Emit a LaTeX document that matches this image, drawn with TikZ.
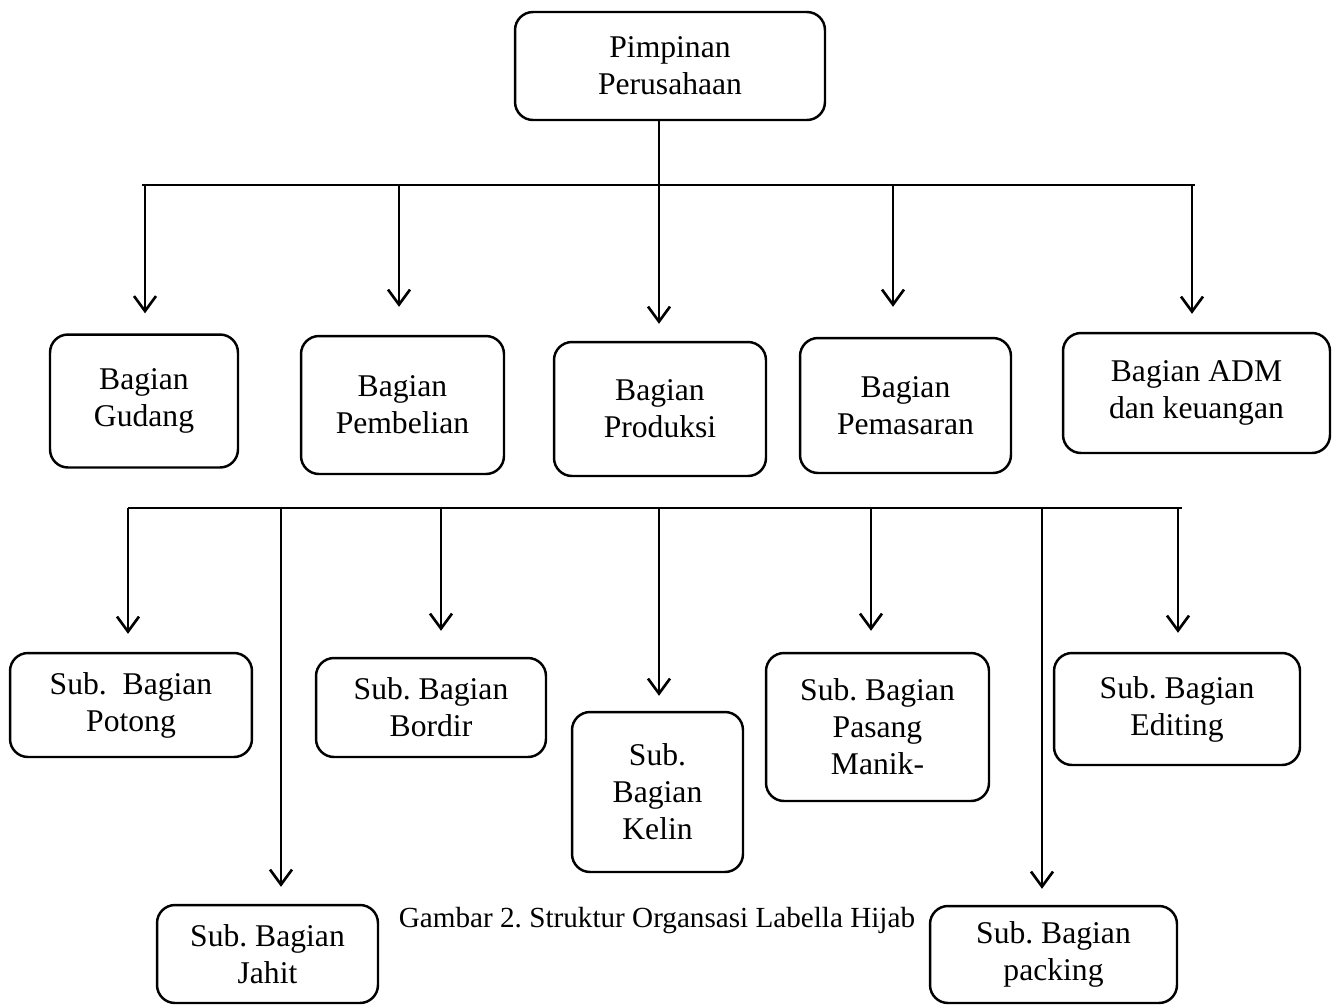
\documentclass[tikz,border=0pt]{standalone}
\usepackage{fontspec}
\setmainfont{Liberation Serif}
\usetikzlibrary{arrows.meta}
\frenchspacing

\begin{document}
\begin{tikzpicture}[x=0.02cm, y=-0.02cm,
    box/.style={draw, line width=1.4pt, rounded corners=0.36cm, align=center,
      inner sep=0pt, font=\fontsize{18}{21}\selectfont},
    bar/.style={line width=1.5pt},
    arr/.style={line width=1.5pt, -{Straight Barb[length=0.3cm, width=0.44cm, line width=1.5pt]}}]
  \useasboundingbox (0,0) rectangle (1335,1005);

  % top
  \node[box, minimum width=6.2cm, minimum height=2.16cm] (pimp) at (670,66) {Pimpinan\\Perusahaan};

  % bagian
  \node[box, minimum width=3.76cm, minimum height=2.66cm] (gudang) at (144,401) {Bagian\\Gudang};
  \node[box, minimum width=4.06cm, minimum height=2.76cm] (beli) at (402.5,405) {Bagian\\Pembelian};
  \node[box, minimum width=4.24cm, minimum height=2.68cm] (prod) at (660,409) {Bagian\\Produksi};
  \node[box, minimum width=4.22cm, minimum height=2.7cm] (pasar) at (905.5,405.5) {Bagian\\Pemasaran};
  \node[box, minimum width=5.34cm, minimum height=2.4cm] (adm) at (1196.5,393) {Bagian ADM\\dan keuangan};

  % sub bagian
  \node[box, minimum width=4.84cm, minimum height=2.08cm] (potong) at (131,705) {Sub.\ \ Bagian\\Potong};
  \node[box, minimum width=4.42cm, minimum height=1.96cm] (jahit) at (267.5,954) {Sub. Bagian\\Jahit};
  \node[box, minimum width=4.6cm, minimum height=1.98cm] (bordir) at (431,707.5) {Sub. Bagian\\Bordir};
  \node[box, minimum width=3.42cm, minimum height=3.2cm] (kelin) at (657.5,792) {Sub.\\Bagian\\Kelin};
  \node[box, minimum width=4.46cm, minimum height=2.96cm] (manik) at (877.5,727) {Sub. Bagian\\Pasang\\Manik-};
  \node[box, minimum width=4.94cm, minimum height=1.94cm] (packing) at (1053.5,954.5) {Sub. Bagian\\packing};
  \node[box, minimum width=4.92cm, minimum height=2.24cm] (editing) at (1177,709) {Sub. Bagian\\Editing};

  \node[font=\fontsize{16.6}{19}\selectfont] (judul) at (657,921) {Gambar 2. Struktur Organsasi Labella Hijab};

  % first bar
  \coordinate (a1) at (145,185);
  \coordinate (a2) at (399,185);
  \coordinate (a3) at (659,185);
  \coordinate (a4) at (893,185);
  \coordinate (a5) at (1192,185);
  \draw[bar] (142,185) coordinate (l1) -- (1195,185) coordinate (r1);
  \draw[bar] (a3 |- pimp.south) -- (a3);
  \draw[arr, shorten >=0.4cm] (a1) -- (a1 |- gudang.north);
  \draw[arr, shorten >=0.56cm] (a2) -- (a2 |- beli.north);
  \draw[arr, shorten >=0.34cm] (a3) -- (a3 |- prod.north);
  \draw[arr, shorten >=0.6cm] (a4) -- (a4 |- pasar.north);
  \draw[arr, shorten >=0.36cm] (a5) -- (a5 |- adm.north);

  % second bar
  \coordinate (b1) at (128,508);
  \coordinate (b2) at (281,508);
  \coordinate (b3) at (441,508);
  \coordinate (b4) at (659,508);
  \coordinate (b5) at (871,508);
  \coordinate (b6) at (1042,508);
  \coordinate (b7) at (1178,508);
  \draw[bar] (b1) -- (1182,508) coordinate (r2);
  \draw[arr, shorten >=0.36cm] (b1) -- (b1 |- potong.north);
  \draw[arr, shorten >=0.34cm] (b2) -- (b2 |- jahit.north);
  \draw[arr, shorten >=0.52cm] (b3) -- (b3 |- bordir.north);
  \draw[arr, shorten >=0.3cm] (b4) -- (b4 |- kelin.north);
  \draw[arr, shorten >=0.42cm] (b5) -- (b5 |- manik.north);
  \draw[arr, shorten >=0.32cm] (b6) -- (b6 |- packing.north);
  \draw[arr, shorten >=0.38cm] (b7) -- (b7 |- editing.north);
\end{tikzpicture}
\end{document}
